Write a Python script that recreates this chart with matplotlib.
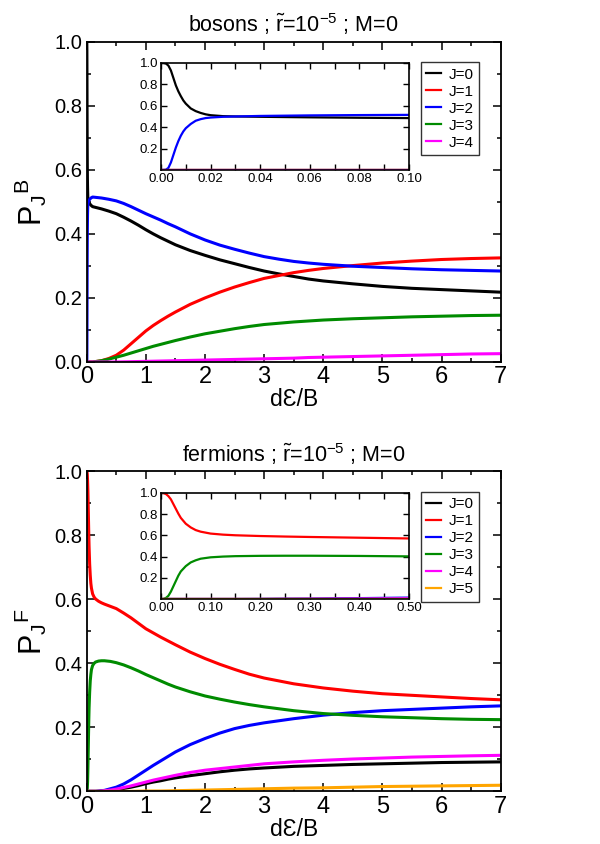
import matplotlib
matplotlib.use("Agg")
import matplotlib.pyplot as plt
from matplotlib.ticker import MultipleLocator, FormatStrFormatter

plt.rcParams['font.family'] = ['Liberation Sans', 'DejaVu Sans']
plt.rcParams['mathtext.fontset'] = 'custom'
plt.rcParams['mathtext.rm'] = 'Liberation Sans'
plt.rcParams['mathtext.it'] = 'Liberation Sans'
plt.rcParams['mathtext.bf'] = 'Liberation Sans:bold'

COLORS = ['black', '#ff0000', '#0000ff', '#008b00', '#ff00ff', '#ffa500']

# ---- bosons: dE/B and P_J^B ----
bos_x = [0, 0.001, 0.002, 0.003, 0.004, 0.005, 0.006, 0.007, 0.008, 0.009,
         0.010, 0.012, 0.014, 0.016, 0.018, 0.020, 0.025, 0.030, 0.04, 0.06,
         0.08, 0.1, 0.25, 0.375, 0.5, 0.625, 0.75, 0.875, 1.0, 1.125,
         1.25, 1.375, 1.5, 1.75, 2.0, 2.25, 2.5, 2.75, 3.0, 3.25,
         3.5, 3.75, 4.0, 4.5, 5.0, 5.5, 6.0, 6.5, 7.0]
bos_j0 = [1.0, 1.0, 0.995, 0.975, 0.93, 0.86, 0.79, 0.735, 0.69, 0.65,
          0.62, 0.575, 0.55, 0.533, 0.52, 0.512, 0.503, 0.50, 0.497, 0.492,
          0.488, 0.485, 0.478, 0.471, 0.463, 0.452, 0.440, 0.427, 0.413, 0.400,
          0.388, 0.377, 0.366, 0.348, 0.333, 0.319, 0.307, 0.295, 0.284, 0.275,
          0.267, 0.259, 0.253, 0.244, 0.236, 0.230, 0.226, 0.222, 0.218]
bos_j1 = [0, 0, 0, 0, 0, 0, 0, 0, 0, 0,
          0, 0, 0, 0, 0, 0, 0, 0, 0, 0,
          0, 0, 0.004, 0.011, 0.021, 0.037, 0.057, 0.077, 0.097, 0.114,
          0.129, 0.143, 0.156, 0.180, 0.200, 0.218, 0.234, 0.248, 0.261, 0.270,
          0.279, 0.286, 0.292, 0.301, 0.309, 0.315, 0.320, 0.323, 0.325]
bos_j2 = [0, 0, 0.002, 0.02, 0.07, 0.14, 0.21, 0.27, 0.32, 0.36,
          0.39, 0.43, 0.46, 0.475, 0.485, 0.49, 0.497, 0.50, 0.505, 0.51,
          0.513, 0.515, 0.512, 0.508, 0.503, 0.495, 0.485, 0.474, 0.463, 0.453,
          0.443, 0.432, 0.422, 0.400, 0.381, 0.365, 0.352, 0.340, 0.329, 0.321,
          0.314, 0.309, 0.305, 0.299, 0.295, 0.291, 0.288, 0.286, 0.284]
bos_j3 = [0, 0, 0, 0, 0, 0, 0, 0, 0, 0,
          0, 0, 0, 0, 0, 0, 0, 0, 0, 0,
          0, 0, 0.004, 0.009, 0.015, 0.021, 0.028, 0.035, 0.042, 0.049,
          0.055, 0.061, 0.067, 0.078, 0.088, 0.096, 0.104, 0.111, 0.117, 0.121,
          0.125, 0.128, 0.131, 0.135, 0.138, 0.141, 0.143, 0.145, 0.146]
bos_j4 = [0, 0, 0, 0, 0, 0, 0, 0, 0, 0,
          0, 0, 0, 0, 0, 0, 0, 0, 0, 0,
          0, 0, 0, 0, 0, 0.0005, 0.001, 0.0015, 0.002, 0.0025,
          0.003, 0.0035, 0.004, 0.005, 0.006, 0.007, 0.008, 0.009, 0.010, 0.011,
          0.012, 0.014, 0.015, 0.017, 0.019, 0.021, 0.023, 0.025, 0.026]

# ---- fermions: dE/B and P_J^F ----
fer_x = [0, 0.005, 0.01, 0.015, 0.02, 0.025, 0.03, 0.035, 0.04, 0.05,
         0.06, 0.07, 0.08, 0.1, 0.125, 0.15, 0.2, 0.25, 0.3, 0.4,
         0.5, 0.625, 0.75, 0.875, 1.0, 1.125, 1.25, 1.375, 1.5, 1.75,
         2.0, 2.25, 2.5, 2.75, 3.0, 3.5, 4.0, 4.5, 5.0, 5.5,
         6.0, 6.5, 7.0]
fer_j0 = [0, 0, 0, 0, 0, 0, 0, 0, 0, 0,
          0, 0, 0, 0, 0, 0, 0, 0.001, 0.001, 0.003,
          0.005, 0.009, 0.013, 0.018, 0.024, 0.029, 0.033, 0.038, 0.042, 0.049,
          0.055, 0.061, 0.066, 0.070, 0.073, 0.078, 0.081, 0.084, 0.086, 0.088,
          0.090, 0.091, 0.092]
fer_j1 = [1.0, 1.0, 0.99, 0.97, 0.94, 0.895, 0.85, 0.805, 0.765, 0.71,
          0.675, 0.65, 0.635, 0.617, 0.607, 0.601, 0.594, 0.589, 0.585, 0.578,
          0.571, 0.557, 0.542, 0.525, 0.508, 0.495, 0.482, 0.470, 0.458, 0.435,
          0.415, 0.397, 0.381, 0.366, 0.354, 0.336, 0.323, 0.313, 0.305, 0.300,
          0.295, 0.290, 0.286]
fer_j2 = [0, 0, 0, 0, 0, 0, 0, 0, 0, 0,
          0, 0, 0, 0, 0, 0, 0.001, 0.002, 0.003, 0.008,
          0.013, 0.023, 0.036, 0.051, 0.066, 0.081, 0.095, 0.109, 0.123, 0.146,
          0.165, 0.182, 0.196, 0.206, 0.214, 0.227, 0.238, 0.246, 0.252, 0.256,
          0.260, 0.264, 0.267]
fer_j3 = [0, 0, 0.01, 0.03, 0.07, 0.12, 0.17, 0.22, 0.26, 0.31,
          0.345, 0.365, 0.38, 0.393, 0.400, 0.404, 0.407, 0.408, 0.408, 0.406,
          0.402, 0.395, 0.386, 0.376, 0.365, 0.355, 0.345, 0.335, 0.326, 0.311,
          0.298, 0.288, 0.279, 0.271, 0.264, 0.252, 0.243, 0.2375, 0.233, 0.230,
          0.227, 0.225, 0.224]
fer_j4 = [0, 0, 0, 0, 0, 0, 0, 0, 0, 0,
          0, 0, 0, 0, 0, 0, 0, 0.001, 0.002, 0.004,
          0.007, 0.012, 0.017, 0.023, 0.029, 0.035, 0.040, 0.045, 0.050, 0.059,
          0.066, 0.071, 0.076, 0.081, 0.086, 0.092, 0.097, 0.101, 0.104, 0.107,
          0.109, 0.111, 0.1125]
fer_j5 = [0, 0, 0, 0, 0, 0, 0, 0, 0, 0,
          0, 0, 0, 0, 0, 0, 0, 0, 0, 0,
          0, 0, 0, 0.0005, 0.001, 0.001, 0.001, 0.0015, 0.002, 0.003,
          0.004, 0.005, 0.006, 0.007, 0.008, 0.010, 0.011, 0.013, 0.015, 0.016,
          0.017, 0.018, 0.019]

bos_labels = ['J=0', 'J=1', 'J=2', 'J=3', 'J=4']
fer_labels = ['J=0', 'J=1', 'J=2', 'J=3', 'J=4', 'J=5']


def style_main(ax):
    ax.set_xlim(0, 7)
    ax.set_ylim(0, 1)
    ax.xaxis.set_major_locator(MultipleLocator(1))
    ax.xaxis.set_minor_locator(MultipleLocator(0.5))
    ax.yaxis.set_major_locator(MultipleLocator(0.2))
    ax.yaxis.set_minor_locator(MultipleLocator(0.1))
    ax.yaxis.set_major_formatter(FormatStrFormatter('%.1f'))
    ax.tick_params(which='both', direction='in', top=True, right=True, width=1.1)
    ax.tick_params(which='major', length=5.5)
    ax.tick_params(which='minor', length=2.8)
    ax.tick_params(axis='x', labelsize=17, pad=3)
    ax.tick_params(axis='y', labelsize=14.5, pad=3)
    for sp in ax.spines.values():
        sp.set_linewidth(1.3)
    ax.set_xlabel('d\u0190/B', fontsize=16.5, labelpad=0)


def style_inset(ax, xmax, xstep):
    ax.set_xlim(0, xmax)
    ax.set_ylim(0, 1)
    ax.xaxis.set_major_locator(MultipleLocator(xstep))
    ax.xaxis.set_minor_locator(MultipleLocator(xstep / 2))
    ax.xaxis.set_major_formatter(FormatStrFormatter('%.2f'))
    ax.set_yticks([0.2, 0.4, 0.6, 0.8, 1.0])
    ax.yaxis.set_major_formatter(FormatStrFormatter('%.1f'))
    ax.tick_params(which='both', direction='in', top=True, right=True,
                   length=4.5, width=1.0, labelsize=9.5, pad=2)
    for sp in ax.spines.values():
        sp.set_linewidth(1.2)


def draw_panel(fig, main_rect, inset_rect, xs, series, labels, title, ylab,
               inset_xmax, inset_step):
    ax = fig.add_axes(main_rect)
    ins = fig.add_axes(inset_rect)
    handles = []
    for i, ys in enumerate(series):
        line, = ax.plot(xs, ys, color=COLORS[i], lw=2.2, label=labels[i])
        ins.plot(xs, ys, color=COLORS[i], lw=1.6)
        handles.append(line)
    style_main(ax)
    style_inset(ins, inset_xmax, inset_step)
    ax.set_title(title, fontsize=15.5, pad=7)
    ax.set_ylabel(ylab, fontsize=22, labelpad=4)
    leg = ax.legend(handles=handles, loc='upper left', bbox_to_anchor=(0.807, 0.936),
                    fontsize=11, frameon=True, fancybox=False, framealpha=1,
                    edgecolor='#333333', borderpad=0.35, labelspacing=0.2,
                    handlelength=1.0, handletextpad=0.45, borderaxespad=0)
    leg.get_frame().set_linewidth(1.0)
    for lh in leg.get_lines():
        lh.set_linewidth(1.6)
    return ax, ins


fig = plt.figure(figsize=(6.0, 8.44), dpi=100)

draw_panel(fig, [0.1445, 0.5711, 0.69, 0.3795], [0.2683, 0.7986, 0.4133, 0.1268],
           bos_x, [bos_j0, bos_j1, bos_j2, bos_j3, bos_j4], bos_labels,
           r'bosons ; $\mathregular{\tilde{r}}$=10$^{\mathregular{-5}}$ ; M=0',
           r'$\mathregular{P_J{}^{B}}$', 0.1, 0.02)

draw_panel(fig, [0.1445, 0.0624, 0.69, 0.3792], [0.2683, 0.2903, 0.4133, 0.1256],
           fer_x, [fer_j0, fer_j1, fer_j2, fer_j3, fer_j4, fer_j5], fer_labels,
           r'fermions ; $\mathregular{\tilde{r}}$=10$^{\mathregular{-5}}$ ; M=0',
           r'$\mathregular{P_J{}^{F}}$', 0.5, 0.1)

fig.savefig('out.png', dpi=100)
